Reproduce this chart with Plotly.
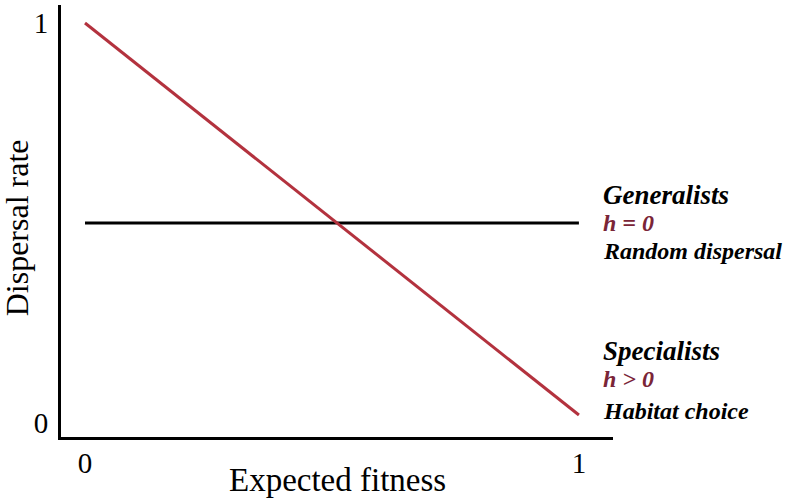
import plotly.graph_objects as go

# data
fitness = [0, 1]
specialist_dispersal = [1.0, 0.02]
generalist_dispersal = [0.5, 0.5]

x_ticks = [0, 1]
y_ticks = [0, 1]

red = "#B3323E"
maroon = "#7A2537"
serif = "Liberation Serif, Times New Roman, serif"

fig = go.Figure()
fig.add_trace(go.Scatter(x=fitness, y=generalist_dispersal, mode="lines",
                         line=dict(color="black", width=3), showlegend=False))
fig.add_trace(go.Scatter(x=fitness, y=specialist_dispersal, mode="lines",
                         line=dict(color=red, width=3), showlegend=False))

# labels on the right
labels = [
    (0.57, "<b><i>Generalists</i></b>", "black", 27),
    (0.50, "<b><i>h = 0</i></b>", maroon, 24),
    (0.43, "<b><i>Random dispersal</i></b>", "black", 24),
    (0.18, "<b><i>Specialists</i></b>", "black", 27),
    (0.11, "<b><i>h > 0</i></b>", maroon, 24),
    (0.03, "<b><i>Habitat choice</i></b>", "black", 24),
]
for yv, txt, col, sz in labels:
    fig.add_annotation(x=1.0, y=yv, xref="paper", yref="y", text=txt,
                       showarrow=False, xanchor="left", xshift=-12,
                       font=dict(family=serif, size=sz, color=col))

# axis titles
fig.add_annotation(x=0.5, y=-0.1, xref="paper", yref="paper", text="Expected fitness",
                   showarrow=False, xanchor="center", yanchor="middle",
                   font=dict(family=serif, size=33))
fig.add_annotation(x=-0.079, y=0.484, xref="paper", yref="paper", text="Dispersal rate",
                   showarrow=False, textangle=-90, xanchor="center", yanchor="middle",
                   font=dict(family=serif, size=32))

fig.update_layout(
    width=793, height=500,
    margin=dict(l=61, r=180, t=5, b=63),
    plot_bgcolor="white", paper_bgcolor="white",
    font=dict(family=serif, size=30, color="black"),
)
fig.update_xaxes(range=[-0.0486, 1.069], showgrid=False, zeroline=False,
                 showline=True, linewidth=3, linecolor="black", automargin=False,
                 tickvals=x_ticks, ticks="", ticklabelstandoff=-2,
                 tickfont=dict(size=29))
fig.update_yaxes(range=[-0.035, 1.045], showgrid=False, zeroline=False,
                 showline=True, linewidth=3, linecolor="black", automargin=False,
                 tickvals=y_ticks, ticks="", ticklabelstandoff=4,
                 tickfont=dict(size=29))

fig.write_html("out.html", config={"displayModeBar": False},
               post_script="document.body.style.margin='0';")
